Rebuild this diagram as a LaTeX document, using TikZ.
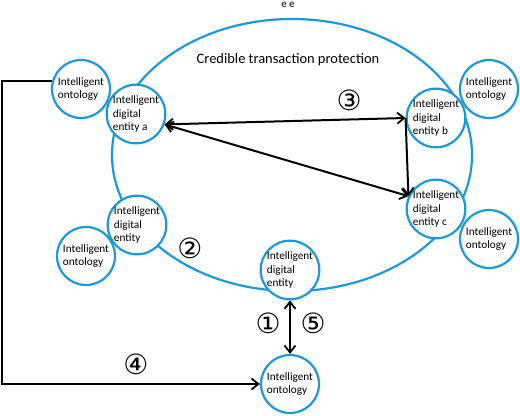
\documentclass[tikz,border=0pt]{standalone}
\usepackage{fontspec}
\setmainfont{Carlito}
\newfontfamily\numfont{DejaVu Sans}
\usetikzlibrary{arrows.meta}
\definecolor{ringblue}{RGB}{27,154,215}

\begin{document}
\begin{tikzpicture}[x=1bp,y=-1bp,
  >={Straight Barb[length=7bp,width=11bp,line width=1.8bp]},
  ring/.style={draw=ringblue,line width=2.2bp},
  agent/.style={ring,circle,fill=white,minimum size=58bp,inner sep=0pt,align=left,
    font=\fontsize{11.3}{13.4}\selectfont},
  num/.style={font=\numfont\fontsize{28}{28}\selectfont},
  link/.style={line width=2bp}]
\useasboundingbox (0,0) rectangle (520,415);

\draw[ring] (292,155) ellipse [x radius=180bp, y radius=136bp];
\node[font=\fontsize{14.5}{16}\selectfont] (title) at (288,60) {Credible transaction protection};
\node[font=\bfseries\fontsize{11}{11}\selectfont,text=black!75] (dots) at (288,5) {e e};

\node[agent] (ontoA) at (81,89) {Intelligent\\ontology};
\node[agent] (entA) at (136,114) {Intelligent\\digital\\entity a};
\node[agent] (entL) at (137,225) {Intelligent\\digital\\entity};
\node[agent] (ontoL) at (86,256) {Intelligent\\ontology};
\node[agent] (entM) at (290,270) {Intelligent\\digital\\entity};
\node[agent] (ontoM) at (290,384) {Intelligent\\ontology};
\node[agent] (entB) at (436,118) {Intelligent\\digital\\entity b};
\node[agent] (ontoB) at (489,89) {Intelligent\\ontology};
\node[agent] (entC) at (436,209) {Intelligent\\digital\\entity c};
\node[agent] (ontoC) at (489,239) {Intelligent\\ontology};

\draw[link,<->] (entA.-20) -- (entB.180);
\draw[link,<->] (entA.-20) -- (entC.155);
\draw[link,->] (entB.180) -- (entC.155);
\draw[link,<->] (entM.south) -- (ontoM.north);
\draw[link,->] (ontoA.165) -- ++(-50,0) |- (ontoM.west);

\node[num] (n1) at (268,323) {①};
\node[num] (n2) at (190,248) {②};
\node[num] (n3) at (349,100) {③};
\node[num] (n4) at (136,364) {④};
\node[num] (n5) at (313,323) {⑤};
\end{tikzpicture}
\end{document}
